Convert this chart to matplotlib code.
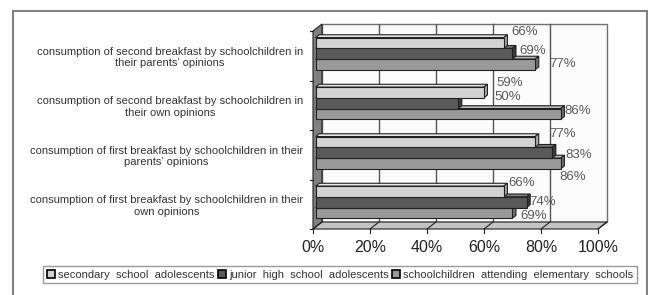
"""Excel-style 3D clustered bar chart of breakfast consumption answers."""

import matplotlib
matplotlib.use("Agg")
import matplotlib.pyplot as plt
from matplotlib.lines import Line2D
from matplotlib.patches import Patch

plt.rcParams["font.family"] = ["Liberation Sans", "DejaVu Sans"]

# categories, bottom to top
CATEGORIES = [
    "consumption of first breakfast by schoolchildren in their\nown opinions",
    "consumption of first breakfast by schoolchildren in their\nparents\u2019 opinions",
    "consumption of second breakfast by schoolchildren in\ntheir own opinions",
    "consumption of second breakfast by schoolchildren in\ntheir parents\u2019 opinions",
]
SERIES = [
    "secondary  school  adolescents",
    "junior  high  school  adolescents",
    "schoolchildren  attending  elementary  schools",
]
SECONDARY = [66, 77, 59, 66]
JUNIOR = [74, 83, 50, 69]
ELEMENTARY = [69, 86, 86, 77]
VALUES = [SECONDARY, JUNIOR, ELEMENTARY]
X_TICKS = [0, 20, 40, 60, 80, 100]

# face colours per series: front, top, side
COLORS = [
    ("#d2d2d2", "#e6e6e6", "#a8a8a8"),
    ("#5a5a5a", "#7c7c7c", "#3a3a3a"),
    ("#9a9a9a", "#bababa", "#6e6e6e"),
]

# label nudges in pixels (right, down) from the bar end, Excel-like placement
LABEL_NUDGE = [
    [(5, -8), (3, 0), (8, 3)],
    [(14, -8), (13, 2), (-1, 14)],
    [(13, -9), (36, -6), (4, -3)],
    [(8, -11), (7, -3), (14, 0)],
]

W, H = 648, 295
AX_L, AX_R, AX_T, AX_B = 305, 620, 18, 236
X0_PX, X_UNIT = 313, 2.85
Y0_PX, Y_UNIT = 229, 49.5
DX, DY = 9 / X_UNIT, 7 / Y_UNIT
D0, D1 = 0.3, 0.7
GROUP = 0.65
EDGE = "#222222"

fig = plt.figure(figsize=(W / 100, H / 100), dpi=100)
ax = fig.add_axes([AX_L / W, 1 - AX_B / H, (AX_R - AX_L) / W, (AX_B - AX_T) / H])
ax.set_xlim((AX_L - X0_PX) / X_UNIT, (AX_R - X0_PX) / X_UNIT)
ax.set_ylim((Y0_PX - AX_B) / Y_UNIT, (Y0_PX - AX_T) / Y_UNIT)
for spine in ax.spines.values():
    spine.set_visible(False)
n_cat = len(CATEGORIES)

# back wall with gridlines
ax.fill([DX, 100 + DX, 100 + DX, DX], [DY, DY, n_cat + DY, n_cat + DY],
        facecolor="#fbfbfb", edgecolor="#707070", lw=1, zorder=1)
for v in X_TICKS[1:-1]:
    ax.plot([v + DX, v + DX], [DY, n_cat + DY], color="#555555", lw=1, zorder=1.5)

# left wall
ax.fill([0, DX, DX, 0], [0, DY, n_cat + DY, n_cat], facecolor="#808080",
        edgecolor=EDGE, lw=0.8, zorder=2)

# floor
ax.fill([0, 100, 100 + DX, DX], [0, 0, DY, DY], facecolor="#c4c4c4",
        edgecolor=EDGE, lw=0.8, zorder=2)
for v in X_TICKS:
    ax.plot([v, v + DX], [0, DY], color=EDGE, lw=0.8, zorder=2.1)
    ax.plot([v, v], [0, -4 / Y_UNIT], color=EDGE, lw=0.8, zorder=2.1, clip_on=False)
for b in range(n_cat + 1):
    ax.plot([-3 / X_UNIT, 0], [b, b], color=EDGE, lw=0.8, zorder=2.1, clip_on=False)

# bars: draw lower series first so upper bars hide their top faces
bar_h = GROUP / len(SERIES)
z = 3
for c in range(n_cat):
    for s in reversed(range(len(SERIES))):
        v = VALUES[s][c]
        front, top, side = COLORS[s]
        yb = c + 0.5 + GROUP / 2 - (s + 1) * bar_h
        x0, y0 = D0 * DX, yb + D0 * DY
        x1, y1 = D1 * DX, yb + D1 * DY
        ax.barh(y0 + bar_h / 2, v, height=bar_h, left=x0, color=front,
                edgecolor=EDGE, lw=0.8, zorder=z + 0.2)
        ax.fill([x0, v + x0, v + x1, x1], [y0 + bar_h, y0 + bar_h, y1 + bar_h, y1 + bar_h],
                facecolor=top, edgecolor=EDGE, lw=0.8, zorder=z)
        ax.fill([v + x0, v + x1, v + x1, v + x0], [y0, y1, y1 + bar_h, y0 + bar_h],
                facecolor=side, edgecolor=EDGE, lw=0.8, zorder=z + 0.1)
        z += 1
        ndx, ndy = LABEL_NUDGE[c][s]
        ax.annotate(f"{v}%", xy=(v + x0, y0 + bar_h / 2),
                    xytext=(ndx * 0.72, -ndy * 0.72), textcoords="offset points",
                    ha="left", va="center", fontsize=9.5, color="#5a5a5a", zorder=50)

ax.set_xticks(X_TICKS)
ax.set_xticklabels([f"{v}%" for v in X_TICKS], fontsize=11.5, color="#222222")
ax.set_yticks([c + 0.5 for c in range(n_cat)])
ax.set_yticklabels(CATEGORIES, fontsize=8, color="#333333")
for t in ax.get_yticklabels():
    t.set_multialignment("center")
ax.tick_params(axis="x", length=0, pad=3)
ax.tick_params(axis="y", length=0, pad=1.5)

# legend
handles = [Patch(facecolor=COLORS[s][0], edgecolor="black", lw=1.2) for s in range(len(SERIES))]
fig.legend(handles, SERIES, loc="center",
           bbox_to_anchor=(43 / W, 1 - 284 / H, (637 - 43) / W, 19 / H),
           mode="expand", ncol=3, fontsize=8, frameon=True, fancybox=False,
           edgecolor="#808080", handlelength=0.7, handleheight=0.7,
           handletextpad=0.3, borderpad=0.35, borderaxespad=0, labelcolor="#333333")

# outer chart border
for xs, ys in [((13, 13), (11, H + 5)), ((13, 647), (11, 11)), ((647, 647), (11, H + 5))]:
    fig.add_artist(Line2D([x / W for x in xs], [1 - y / H for y in ys],
                          transform=fig.transFigure, color="#808080", lw=1.5))

fig.savefig("out.png", dpi=100)
